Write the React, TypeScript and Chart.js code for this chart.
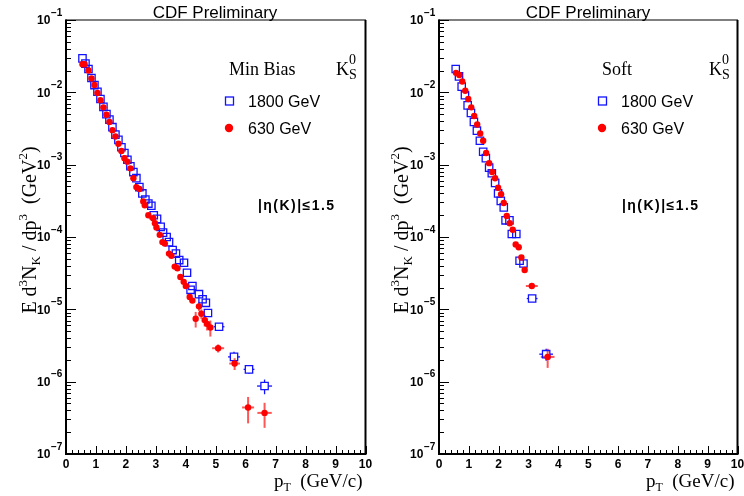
import React, { useEffect, useRef } from "react";
import { Chart, registerables } from "chart.js";
Chart.register(...registerables);

// ---------------- data ----------------
const xTickValues = [0, 1, 2, 3, 4, 5, 6, 7, 8, 9, 10];
const yDecades = [-7, -6, -5, -4, -3, -2, -1];

// Left panel: Min Bias
const mbBlueX = [0.55, 0.65, 0.75, 0.85, 0.95, 1.05, 1.15, 1.25, 1.35, 1.45,
  1.55, 1.65, 1.75, 1.85, 1.95, 2.05, 2.15, 2.25, 2.35, 2.45,
  2.55, 2.65, 2.75, 2.85, 2.93, 3.04, 3.16, 3.24, 3.36, 3.44,
  3.56, 3.67, 3.78, 3.94, 4.04, 4.16, 4.22, 4.44, 4.56, 4.67,
  4.74, 5.11, 5.61, 6.11, 6.63];
const mbBlueY = [2.95e-2, 2.5e-2, 2.1e-2, 1.58e-2, 1.26e-2, 1.02e-2, 8.1e-3, 6.3e-3, 5.0e-3, 4.2e-3,
  3.3e-3, 2.6e-3, 2.2e-3, 1.74e-3, 1.45e-3, 1.17e-3, 9.5e-4, 7.9e-4, 6.5e-4, 4.9e-4,
  4.0e-4, 3.3e-4, 2.9e-4, 2.7e-4, 2.0e-4, 1.78e-4, 1.38e-4, 1.15e-4, 1.0e-4, 8.5e-5,
  6.6e-5, 5.9e-5, 4.8e-5, 4.4e-5, 3.2e-5, 1.86e-5, 2.1e-5, 1.62e-5, 1.38e-5, 1.23e-5,
  8.9e-6, 5.75e-6, 2.2e-6, 1.48e-6, 8.7e-7];
const mbBlueYErr = [0, 0, 0, 0, 0, 0, 0, 0, 0, 0,
  0, 0, 0, 0, 0, 0, 0, 0, 0, 0,
  0, 0, 0, 0, 0, 0, 0, 0, 0, 0,
  0, 0, 0, 0, 0, 0, 0, 0, 0, 0,
  0, 6e-7, 4e-7, 2e-7, 2e-7];
const mbBlueXErr = [0, 0, 0, 0, 0, 0, 0, 0, 0, 0,
  0, 0, 0, 0, 0, 0, 0, 0, 0, 0,
  0, 0, 0, 0, 0, 0, 0, 0, 0, 0,
  0, 0, 0, 0, 0, 0, 0, 0, 0, 0,
  0, 0.18, 0.2, 0.18, 0.25];

const mbRedX = [0.55, 0.62, 0.75, 0.85, 0.95, 1.05, 1.15, 1.25, 1.35, 1.45,
  1.55, 1.65, 1.75, 1.85, 1.95, 2.05, 2.15, 2.25, 2.35, 2.45,
  2.58, 2.63, 2.75, 2.91, 2.97, 3.02, 3.13, 3.22, 3.30, 3.44,
  3.52, 3.63, 3.72, 3.82, 3.93, 4.00, 4.13, 4.22, 4.33, 4.44,
  4.52, 4.63, 4.71, 4.82, 5.08, 5.63, 6.08, 6.63];
const mbRedY = [2.45e-2, 2.45e-2, 2.0e-2, 1.55e-2, 1.26e-2, 9.8e-3, 7.8e-3, 6.2e-3, 4.9e-3, 3.9e-3,
  3.0e-3, 2.45e-3, 1.95e-3, 1.55e-3, 1.23e-3, 1.1e-3, 8.9e-4, 6.5e-4, 4.9e-4, 4.6e-4,
  3.1e-4, 2.75e-4, 2.0e-4, 1.82e-4, 1.55e-4, 1.35e-4, 1.07e-4, 8.5e-5, 8.1e-5, 5.9e-5,
  5.5e-5, 3.9e-5, 3.7e-5, 2.8e-5, 2.4e-5, 2.1e-5, 1.48e-5, 1.32e-5, 7.4e-6, 1.1e-5,
  8.7e-6, 7.1e-6, 6.3e-6, 5.6e-6, 2.9e-6, 1.78e-6, 4.4e-7, 3.7e-7];
const mbRedYErr = [0, 0, 0, 0, 0, 0, 0, 0, 0, 0,
  0, 0, 0, 0, 0, 0, 0, 0, 0, 0,
  0, 0, 0, 0, 0, 0, 0, 0, 0, 0,
  0, 0, 0, 0, 0, 0, 0, 0, 1.8e-6, 1.5e-6,
  1.3e-6, 1.3e-6, 1.2e-6, 1.4e-6, 3.7e-7, 3.3e-7, 1.75e-7, 1.4e-7];
const mbRedXErr = [0, 0, 0, 0, 0, 0, 0, 0, 0, 0,
  0, 0, 0, 0, 0, 0, 0, 0, 0, 0,
  0, 0, 0, 0, 0, 0, 0, 0, 0, 0,
  0, 0, 0, 0, 0, 0, 0, 0, 0, 0,
  0, 0, 0, 0, 0.2, 0.18, 0.2, 0.24];

// Right panel: Soft
const softBlueX = [0.56, 0.67, 0.76, 0.87, 0.96, 1.07, 1.17, 1.27, 1.37, 1.48,
  1.57, 1.68, 1.77, 1.88, 1.98, 2.07, 2.17, 2.23, 2.36, 2.44,
  2.59, 2.70, 2.83, 3.12, 3.59];
const softBlueY = [2.1e-2, 1.66e-2, 1.2e-2, 9.1e-3, 6.6e-3, 5.2e-3, 3.9e-3, 2.95e-3, 2.14e-3, 1.51e-3,
  1.23e-3, 9.1e-4, 7.6e-4, 5.6e-4, 4.0e-4, 3.16e-4, 2.57e-4, 1.7e-4, 1.7e-4, 1.1e-4,
  1.1e-4, 4.7e-5, 4.3e-5, 1.41e-5, 2.4e-6];
const softBlueYErr = [0, 0, 0, 0, 0, 0, 0, 0, 0, 0,
  0, 0, 0, 0, 0, 0, 0, 0, 0, 0,
  0, 0, 0, 1e-6, 4.5e-7];
const softBlueXErr = [0, 0, 0, 0, 0, 0, 0, 0, 0, 0,
  0, 0, 0, 0, 0, 0, 0, 0, 0, 0,
  0, 0, 0, 0.18, 0.23];

const softRedX = [0.57, 0.68, 0.78, 0.88, 0.98, 1.08, 1.18, 1.28, 1.38, 1.48,
  1.58, 1.68, 1.78, 1.88, 1.98, 2.08, 2.17, 2.27, 2.37, 2.47,
  2.57, 2.67, 2.76, 2.87, 3.11, 3.64];
const softRedY = [1.86e-2, 1.74e-2, 1.41e-2, 1.05e-2, 8.1e-3, 6.2e-3, 4.7e-3, 3.6e-3, 2.7e-3, 2.14e-3,
  1.45e-3, 1.05e-3, 7.9e-4, 6.5e-4, 4.8e-4, 3.9e-4, 2.95e-4, 1.95e-4, 1.55e-4, 1.26e-4,
  7.9e-5, 7.2e-5, 5.2e-5, 3.5e-5, 2.1e-5, 2.2e-6];
const softRedYErr = [0, 0, 0, 0, 0, 0, 0, 0, 0, 0,
  0, 0, 0, 0, 0, 0, 0, 0, 0, 0,
  0, 0, 0, 2.8e-6, 1e-6, 6.5e-7];
const softRedXErr = [0, 0, 0, 0, 0, 0, 0, 0, 0, 0,
  0, 0, 0, 0, 0, 0, 0, 0, 0, 0,
  0, 0, 0, 0, 0.2, 0.23];

// ---------------- style ----------------
const BLUE = "#1212ff";
const RED = "#ff0000";
const RED_ERR = "rgba(255,30,30,0.75)";
const SANS = "'Liberation Sans', Arial, sans-serif";
const SERIF = "'Liberation Serif', 'Times New Roman', serif";

type Seg = { t: string; f: string; dy: number };

function richWidth(ctx: CanvasRenderingContext2D, segs: Seg[]) {
  let w = 0;
  for (const s of segs) {
    ctx.font = s.f;
    w += ctx.measureText(s.t).width;
  }
  return w;
}
function drawRich(ctx: CanvasRenderingContext2D, segs: Seg[], x: number, y: number) {
  let cx = x;
  ctx.textAlign = "left";
  ctx.textBaseline = "alphabetic";
  for (const s of segs) {
    ctx.font = s.f;
    ctx.fillText(s.t, cx, y + s.dy);
    cx += ctx.measureText(s.t).width;
  }
}

type Series = { x: number[]; y: number[]; ye: number[]; xe: number[] };
type PanelDef = {
  left: number;
  right: number;
  label: string;
  etaX: number;
  blue: Series;
  red: Series;
};

function makePlugin(p: PanelDef) {
  return {
    id: "rootStyle",
    beforeDatasetsDraw(chart: any) {
      const ctx: CanvasRenderingContext2D = chart.ctx;
      const ca = chart.chartArea;
      const xs = chart.scales.x;
      const ys = chart.scales.y;
      ctx.save();
      ctx.strokeStyle = "#000";
      const line = (x1: number, y1: number, x2: number, y2: number) => {
        ctx.beginPath();
        ctx.moveTo(x1, y1);
        ctx.lineTo(x2, y2);
        ctx.stroke();
      };
      // frame
      ctx.lineWidth = 1;
      ctx.strokeRect(ca.left, ca.top, ca.right - ca.left, ca.bottom - ca.top);
      ctx.lineWidth = 2;
      line(ca.left, ca.top - 0.5, ca.left, ca.bottom + 1);
      line(ca.left - 1, ca.bottom, ca.right + 1, ca.bottom);
      line(ca.right, ca.top, ca.right, ca.bottom);
      // x ticks
      ctx.lineWidth = 1;
      for (let i = 0; i <= 50; i++) {
        const px = Math.round(xs.getPixelForValue(i * 0.2)) + 0.5;
        const len = i % 5 === 0 ? 8 : 4;
        line(px, ca.bottom, px, ca.bottom - len);
      }
      // y ticks
      for (const d of yDecades) {
        const py = Math.round(ys.getPixelForValue(Math.pow(10, d))) + 0.5;
        line(ca.left, py, ca.left + 10, py);
        if (d < -1) {
          for (let m = 2; m <= 9; m++) {
            const pm = Math.round(ys.getPixelForValue(m * Math.pow(10, d))) + 0.5;
            line(ca.left, pm, ca.left + 5, pm);
          }
        }
      }
      // error bars
      const drawErr = (s: Series, color: string, lw: number, gap: number) => {
        ctx.strokeStyle = color;
        ctx.lineWidth = lw;
        for (let i = 0; i < s.x.length; i++) {
          const px = xs.getPixelForValue(s.x[i]);
          const py = ys.getPixelForValue(s.y[i]);
          if (s.ye[i] > 0) {
            const lo = Math.max(s.y[i] - s.ye[i], 1e-8);
            const top = ys.getPixelForValue(s.y[i] + s.ye[i]);
            const bot = ys.getPixelForValue(lo);
            if (top < py - gap) line(px, top, px, py - gap);
            if (bot > py + gap) line(px, py + gap, px, bot);
          }
          if (s.xe[i] > 0) {
            const l = xs.getPixelForValue(s.x[i] - s.xe[i]);
            const r = xs.getPixelForValue(s.x[i] + s.xe[i]);
            if (l < px - gap) line(l, py, px - gap, py);
            if (r > px + gap) line(px + gap, py, r, py);
          }
        }
      };
      drawErr(p.blue, BLUE, 1.3, 3.8);
      drawErr(p.red, RED_ERR, 2, 0);
      ctx.restore();
    },
    afterDraw(chart: any) {
      const ctx: CanvasRenderingContext2D = chart.ctx;
      const ca = chart.chartArea;
      const xs = chart.scales.x;
      const ys = chart.scales.y;
      ctx.save();
      ctx.fillStyle = "#000";
      // x tick labels
      ctx.font = `bold 12px ${SANS}`;
      ctx.textAlign = "center";
      ctx.textBaseline = "middle";
      for (const v of xTickValues) {
        ctx.fillText(String(v), xs.getPixelForValue(v), 465);
      }
      // y tick labels
      for (const d of yDecades) {
        const py = ys.getPixelForValue(Math.pow(10, d));
        ctx.font = `bold 12px ${SANS}`;
        ctx.textAlign = "left";
        ctx.textBaseline = "middle";
        ctx.fillText("10", ca.left - 29, py + 1);
        ctx.font = `bold 10px ${SANS}`;
        ctx.fillText("\u2212" + String(-d), ca.left - 15, py - 7);
      }
      // top title
      ctx.font = `17px ${SANS}`;
      ctx.textAlign = "center";
      ctx.textBaseline = "alphabetic";
      ctx.fillText("CDF Preliminary", ca.left + 149, 18);
      // panel label
      ctx.font = `18px ${SERIF}`;
      ctx.textAlign = "left";
      ctx.fillText(p.label, ca.left + 163, 75);
      // K0S
      ctx.font = `18px ${SERIF}`;
      const kx = ca.left + 270;
      ctx.fillText("K", kx, 75);
      const kw = ctx.measureText("K").width;
      ctx.font = `14px ${SERIF}`;
      ctx.fillText("0", kx + kw, 64);
      ctx.fillText("S", kx + kw, 79);
      // legend
      const sx = ca.left + 163.5;
      ctx.strokeStyle = BLUE;
      ctx.lineWidth = 1.3;
      ctx.strokeRect(sx - 4, 101 - 4, 8, 8);
      ctx.fillStyle = RED;
      ctx.beginPath();
      ctx.arc(sx - 0.5, 128, 4.2, 0, Math.PI * 2);
      ctx.fill();
      ctx.fillStyle = "#000";
      ctx.font = `16px ${SANS}`;
      ctx.fillText("1800 GeV", ca.left + 182, 107);
      ctx.fillText("630 GeV", ca.left + 182, 134);
      // eta text
      ctx.font = `bold 14px ${SANS}`;
      const etaStr = "|\u03b7(K)|\u22641.5";
      const natural = ctx.measureText(etaStr).width;
      const spacing = Math.max(0, (76 - natural) / (etaStr.length - 1));
      (ctx as any).letterSpacing = spacing.toFixed(2) + "px";
      ctx.fillText(etaStr, p.etaX, 210);
      (ctx as any).letterSpacing = "0px";
      // x title
      const xt: Seg[] = [
        { t: "p", f: `19px ${SERIF}`, dy: 0 },
        { t: "T", f: `12px ${SERIF}`, dy: 4 },
        { t: "  (GeV/c)", f: `19px ${SERIF}`, dy: 0 },
      ];
      const xw = richWidth(ctx, xt);
      drawRich(ctx, xt, ca.right - 3 - xw, 487);
      // y title (rotated)
      const yt: Seg[] = [
        { t: "E d", f: `20px ${SERIF}`, dy: 0 },
        { t: "3", f: `13px ${SERIF}`, dy: -9 },
        { t: "N", f: `20px ${SERIF}`, dy: 0 },
        { t: "K", f: `13px ${SERIF}`, dy: 4 },
        { t: " / dp", f: `20px ${SERIF}`, dy: 0 },
        { t: "3", f: `13px ${SERIF}`, dy: -9 },
        { t: "  (GeV", f: `20px ${SERIF}`, dy: 0 },
        { t: "2", f: `13px ${SERIF}`, dy: -9 },
        { t: ")", f: `20px ${SERIF}`, dy: 0 },
      ];
      const yw = richWidth(ctx, yt);
      ctx.translate(36, 230);
      ctx.rotate(-Math.PI / 2);
      drawRich(ctx, yt, -yw / 2, 0);
      ctx.restore();
    },
  };
}

function toPts(xs: number[], ys: number[]) {
  return xs.map((x, i) => ({ x, y: ys[i] }));
}

function Panel({ def, offset }: { def: PanelDef; offset: number }) {
  const ref = useRef<HTMLCanvasElement | null>(null);
  useEffect(() => {
    if (!ref.current) return;
    const chart = new Chart(ref.current, {
      type: "scatter",
      data: {
        datasets: [
          {
            label: "630 GeV",
            data: toPts(def.red.x, def.red.y),
            pointStyle: "circle",
            pointRadius: 3.2,
            pointBackgroundColor: RED,
            pointBorderWidth: 0,
            pointBorderColor: RED,
            showLine: false,
            order: 0,
          },
          {
            label: "1800 GeV",
            data: toPts(def.blue.x, def.blue.y),
            pointStyle: "rect",
            pointRadius: 5.2,
            pointBackgroundColor: "rgba(0,0,0,0)",
            pointBorderColor: BLUE,
            pointBorderWidth: 1.3,
            showLine: false,
            order: 1,
          },
        ],
      },
      options: {
        responsive: false,
        animation: false,
        devicePixelRatio: 1,
        events: [],
        layout: { padding: { left: 0, right: 372 - def.right, top: 20, bottom: 0 } },
        plugins: { legend: { display: false }, tooltip: { enabled: false } },
        scales: {
          x: {
            type: "linear",
            min: 0,
            max: 10,
            ticks: { display: false },
            grid: { display: false },
            border: { display: false },
            afterFit: (s: any) => {
              s.height = 42;
            },
          },
          y: {
            type: "logarithmic",
            min: 1e-7,
            max: 1e-1,
            ticks: { display: false },
            grid: { display: false },
            border: { display: false },
            afterFit: (s: any) => {
              s.width = def.left;
            },
          },
        },
      } as any,
      plugins: [makePlugin(def)],
    });
    return () => chart.destroy();
  }, [def]);
  return (
    <canvas
      ref={ref}
      width={372}
      height={496}
      style={{ position: "absolute", left: offset, top: 0, width: 372, height: 496 }}
    />
  );
}

const leftDef: PanelDef = {
  left: 66,
  right: 366,
  label: "Min Bias",
  etaX: 258,
  blue: { x: mbBlueX, y: mbBlueY, ye: mbBlueYErr, xe: mbBlueXErr },
  red: { x: mbRedX, y: mbRedY, ye: mbRedYErr, xe: mbRedXErr },
};
const rightDef: PanelDef = {
  left: 67,
  right: 367,
  label: "Soft",
  etaX: 250,
  blue: { x: softBlueX, y: softBlueY, ye: softBlueYErr, xe: softBlueXErr },
  red: { x: softRedX, y: softRedY, ye: softRedYErr, xe: softRedXErr },
};

export default function App() {
  return (
    <div style={{ position: "absolute", left: 0, top: 0, width: 744, height: 496, background: "#fff", overflow: "hidden" }}>
      <Panel def={leftDef} offset={0} />
      <Panel def={rightDef} offset={372} />
    </div>
  );
}
